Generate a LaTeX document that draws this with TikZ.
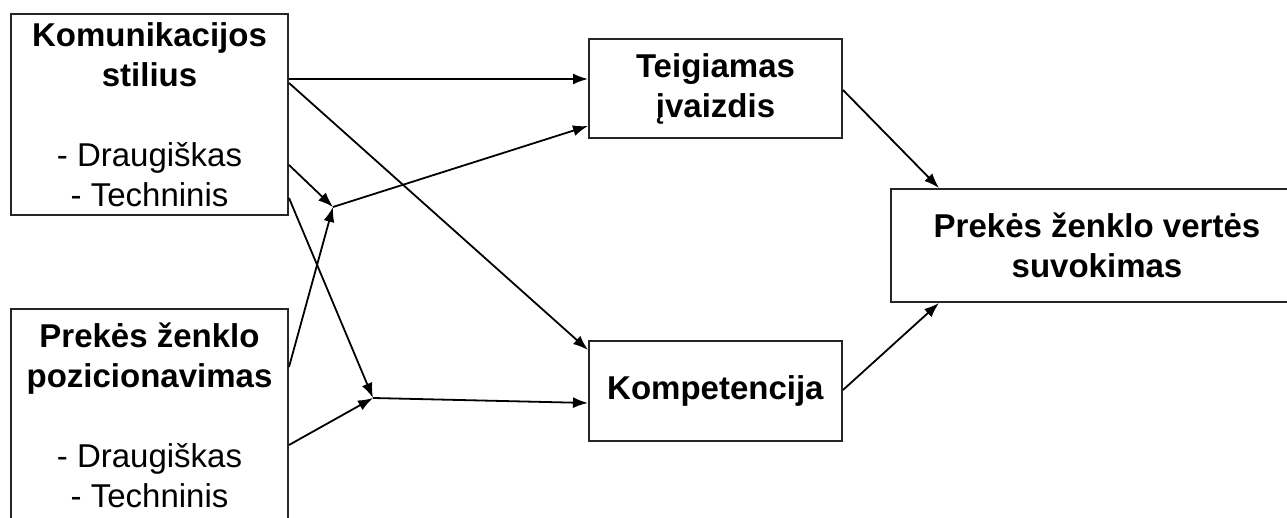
\documentclass[tikz,border=0pt]{standalone}
\usepackage{fontspec}
\setmainfont{Liberation Sans}
\usepackage{tikz}
\usetikzlibrary{arrows.meta,calc}

\begin{document}
\begin{tikzpicture}[
  x=0.5pt, y=0.5pt,
  font=\fontsize{16.5}{20}\selectfont,
  >={Latex[length=7.5pt,width=5.5pt]},
  blk/.style={rectangle, draw=black!85, line width=1pt, align=center, inner sep=0pt},
  con/.style={->, line width=0.9pt},
]
\useasboundingbox (0,0) rectangle (1287,518);
\clip (0,0) rectangle (1287,518);
\node[blk, minimum width=138.5pt, minimum height=100.5pt] (kom) at (149.5,403.5) {\textbf{Komunikacijos}\\\textbf{stilius}\\[20pt]- Draugiškas\\- Techninis};
\node[blk, minimum width=138.5pt, minimum height=106pt] (poz) at (149.5,103) {\textbf{Prekės ženklo}\\\textbf{pozicionavimas}\\[20pt]- Draugiškas\\- Techninis};
\node[blk, minimum width=126.5pt, minimum height=49.5pt] (teig) at (715.5,429.5) {\textbf{Teigiamas}\\\textbf{įvaizdis}};
\node[blk, minimum width=126.5pt, minimum height=50pt] (komp) at (715.5,127) {\textbf{Kompetencija}};
\node[blk, minimum width=206pt, minimum height=56.5pt] (suv) at (1097,272.5) {\textbf{Prekės ženklo vertės}\\\textbf{suvokimas}};
\coordinate (j1) at (333,311);
\coordinate (j2) at (373,120);
\draw[con] ($(kom.east)+(0,35.5)$) -- ($(teig.west)+(0,9.5)$);
\draw[con] ($(kom.east)+(0,31.5)$) -- ($(komp.west)+(0,41)$);
\draw[con] ($(kom.east)+(0,-50.5)$) -- (j1);
\draw[con] ($(kom.east)+(0,-83.5)$) -- (j2);
\draw[con] ($(poz.east)+(0,48)$) -- (j1);
\draw[con] (j1) -- ($(teig.west)+(0,-37.5)$);
\draw[con] ($(poz.east)+(0,-30)$) -- (j2);
\draw[con] (j2) -- ($(komp.west)+(0,-12)$);
\draw[con] ($(teig.east)+(0,-1.5)$) -- ($(suv.north west)+(49,0)$);
\draw[con] ($(komp.east)+(0,1)$) -- ($(suv.south west)+(49,0)$);
\end{tikzpicture}
\end{document}
